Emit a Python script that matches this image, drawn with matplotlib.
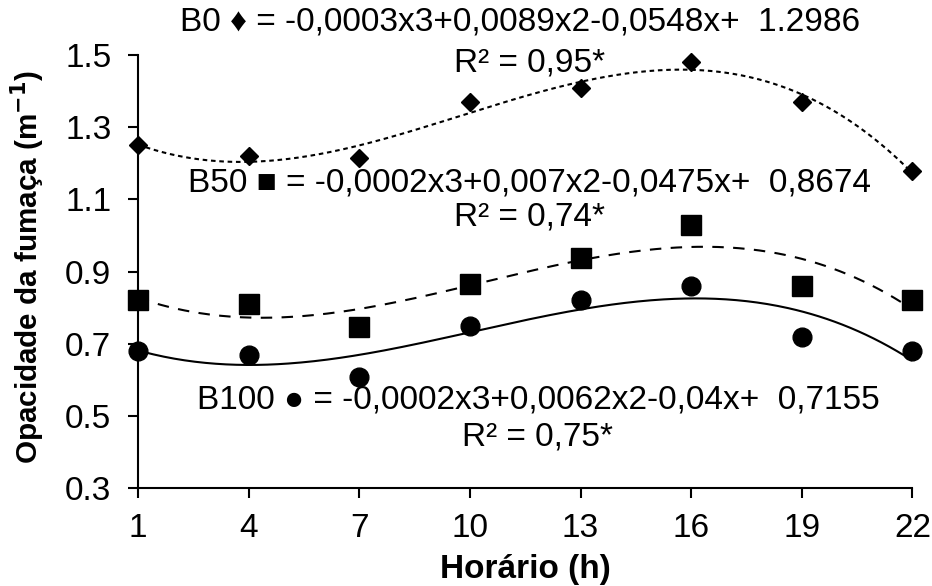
import numpy as np
import matplotlib
matplotlib.use("Agg")
import matplotlib.pyplot as plt

plt.rcParams['font.family'] = ['Liberation Sans', 'DejaVu Sans']

hours = [1, 4, 7, 10, 13, 16, 19, 22]
b0 = [1.25, 1.22, 1.215, 1.37, 1.41, 1.48, 1.37, 1.18]
b50 = [0.82, 0.81, 0.746, 0.866, 0.937, 1.03, 0.86, 0.82]
b100 = [0.68, 0.67, 0.608, 0.75, 0.82, 0.86, 0.72, 0.68]

xticks = [1, 4, 7, 10, 13, 16, 19, 22]
yticks = [0.3, 0.5, 0.7, 0.9, 1.1, 1.3, 1.5]

eq_b0 = "B0 \u2666 = -0,0003x3+0,0089x2-0,0548x+  1.2986"
r2_b0 = "R\u00b2 = 0,95*"
eq_b50 = "B50 \u25a0 = -0,0002x3+0,007x2-0,0475x+  0,8674"
r2_b50 = "R\u00b2 = 0,74*"
eq_b100 = "B100 \u25cf = -0,0002x3+0,0062x2-0,04x+  0,7155"
r2_b100 = "R\u00b2 = 0,75*"

fig = plt.figure(figsize=(9.32, 5.86), dpi=100)
ax = fig.add_axes([0.148, 0.167, 0.831, 0.739])

xs = np.linspace(1, 22, 300)
x = np.array(hours, dtype=float)

series = [
    (b0, 'D', 9.0, (0, (2.2, 1.8))),
    (b50, 's', 13.8, (0, (5.5, 4.5))),
    (b100, 'o', 13.5, '-'),
]
for vals, mk, ms, ls in series:
    coef = np.polyfit(x, np.array(vals), 3)
    ax.plot(xs, np.polyval(coef, xs), color='black', lw=1.5, linestyle=ls, zorder=2)
    ax.plot(hours, vals, linestyle='none', marker=mk, markersize=ms,
            color='black', clip_on=False, zorder=3)

ax.set_xlim(1, 22)
ax.set_ylim(0.3, 1.5)
ax.set_xticks(xticks)
ax.set_yticks(yticks)
ax.set_yticklabels([f"{v:.1f}" for v in yticks])
for s in ['top', 'right']:
    ax.spines[s].set_visible(False)
for s in ['left', 'bottom']:
    ax.spines[s].set_linewidth(1.5)
ax.tick_params(axis='both', direction='out', length=7.2, width=1.5, labelsize=24, colors='black')
ax.tick_params(axis='x', pad=11)
ax.tick_params(axis='y', pad=12)

ax.set_xlabel("Hor\u00e1rio (h)", fontsize=24, fontweight='bold', labelpad=7)
ax.set_ylabel("Opacidade da fuma\u00e7a (m$^{\\mathbf{-1}}$)", fontsize=21.3, fontweight='bold')
ax.yaxis.set_label_coords(-0.1176, 0.51)

tk = dict(fontsize=24, ha='center', va='center', transform=fig.transFigure,
          family=['Liberation Sans', 'DejaVu Sans'])
fig.text(520/932, 1-22/586, eq_b0, **tk)
fig.text(530/932, 1-63/586, r2_b0, **tk)
fig.text(530/932, 1-183/586, eq_b50, **tk)
fig.text(530/932, 1-217/586, r2_b50, **tk)
fig.text(538/932, 1-400/586, eq_b100, **tk)
fig.text(538/932, 1-437/586, r2_b100, **tk)

fig.savefig("out.png", dpi=100)
